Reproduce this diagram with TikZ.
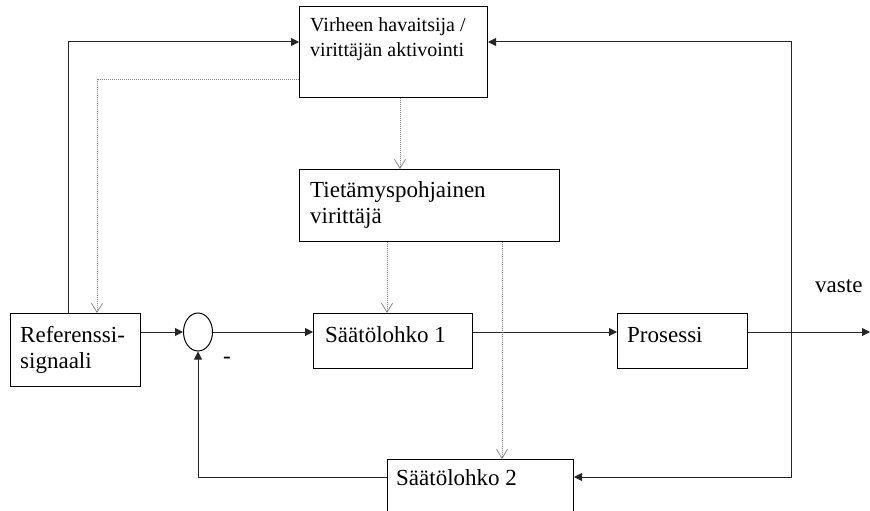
\documentclass[tikz,border=0pt]{standalone}
\usepackage{fontspec}
\setmainfont{Liberation Serif}
\usetikzlibrary{arrows.meta,shapes.geometric}
\begin{document}
\begin{tikzpicture}[x=1pt,y=-1pt,
  box/.style={draw=black, line width=1pt, rectangle, inner sep=0pt, anchor=north west},
  txt/.style={anchor=base west, inner sep=0pt, font=\fontsize{23}{27}\selectfont},
  txts/.style={anchor=base west, inner sep=0pt, font=\fontsize{20}{24}\selectfont},
  arr/.style={line width=1pt, draw=black!85, -{Triangle[length=8pt,width=8pt]}},
  dotc/.style={draw=gray, line width=0.8pt, dash pattern=on 1pt off 1pt, -{Straight Barb[length=9pt,width=11pt,line width=0.7pt]}}
]
\useasboundingbox (0,0) rectangle (870,511);
\clip (0,0) rectangle (870,511);

% boxes
\node[box, minimum width=188, minimum height=91] (V) at (299,6) {};
\node[box, minimum width=260, minimum height=72] (T) at (299,169) {};
\node[box, minimum width=130, minimum height=73] (ref) at (10,313) {};
\node[box, minimum width=159, minimum height=55] (s1) at (313,313) {};
\node[box, minimum width=130, minimum height=55] (pro) at (617,313) {};
\node[box, minimum width=186, minimum height=80] (S2) at (387,459) {};
\node[draw=black, line width=1pt, ellipse, inner sep=0pt, minimum width=29, minimum height=38] (sum) at (198,332) {};

% texts
\node[txts] (V1) at (310,32) {Virheen havaitsija /};
\node[txts] (V2) at (310,57) {virittäjän aktivointi};
\node[txt] (T1) at (310,197) {Tietämyspohjainen};
\node[txt] (T2) at (310,223) {virittäjä};
\node[txt] (R1) at (20,342) {Referenssi-};
\node[txt] (R2) at (20,368) {signaali};
\node[txt] (s1t) at (325,342) {Säätölohko 1};
\node[txt] (prot) at (627,342) {Prosessi};
\node[txt] (S2t) at (396,485) {Säätölohko 2};
\node[txt] (vaste) at (815,292) {vaste};
\node[anchor=base, inner sep=0pt, font=\fontsize{23}{27}\selectfont] (minus) at (227,363) {-};

% helper coordinates
\coordinate (cL) at (68,42);
\coordinate (cR) at (791,42);
\coordinate (cRB) at (791,477);
\coordinate (cD) at (97,79);
\coordinate (dx1) at (400,0);
\coordinate (dx2) at (387,0);
\coordinate (dx3) at (502,0);
\coordinate (out) at (870,332);

% solid connectors
\draw[arr] (ref.north -| cL) |- (V.west |- cL);
\draw[arr] (cR |- sum) -- (cR) -- (V.east |- cR);
\draw[arr] (cR |- sum) -- (cRB) -- (S2.east |- cRB);
\draw[arr] (ref.east |- sum) -- (sum.west);
\draw[arr] (sum.east) -- (s1.west |- sum);
\draw[arr] (s1.east |- sum) -- (pro.west |- sum);
\draw[arr] (pro.east |- sum) -- (out);
\draw[arr] (S2.west |- cRB) -| (sum.south);

% dotted connectors
\draw[dotc] (V.west |- cD) -| (ref.north -| cD);
\draw[dotc] (V.south -| dx1) -- (T.north -| dx1);
\draw[dotc] (T.south -| dx2) -- (s1.north -| dx2);
\draw[dotc] (T.south -| dx3) -- (S2.north -| dx3);
\end{tikzpicture}
\end{document}
